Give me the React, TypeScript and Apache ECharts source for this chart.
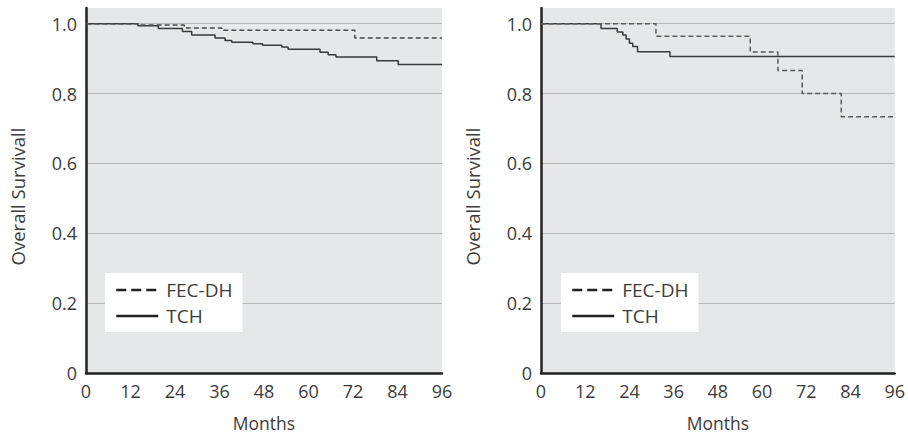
import React, { useEffect, useRef } from "react";
import * as echarts from "echarts";

// Kaplan-Meier style step data: [month, survival]
const leftFecDh: [number, number][] = [
  [0, 1], [14, 0.996], [26.5, 0.988], [36.6, 0.981], [72.5, 0.959], [96, 0.959],
];
const leftTch: [number, number][] = [
  [0, 1], [14, 0.994], [19.5, 0.986], [26, 0.978], [28.5, 0.968], [34.8, 0.959],
  [37.5, 0.952], [39.3, 0.947], [45, 0.943], [47.6, 0.938], [52.8, 0.933],
  [54.5, 0.927], [63.1, 0.918], [65.3, 0.911], [67.4, 0.905], [78.4, 0.894],
  [84.2, 0.883], [96, 0.883],
];
const rightFecDh: [number, number][] = [
  [0, 1], [31.2, 0.964], [56.8, 0.919], [64.3, 0.866], [70.9, 0.8], [81.5, 0.734], [96, 0.734],
];
const rightTch: [number, number][] = [
  [0, 1], [16.3, 0.986], [20.7, 0.976], [22.2, 0.968], [23.1, 0.956], [24, 0.944],
  [24.9, 0.935], [26.2, 0.92], [35, 0.906], [96, 0.906],
];
const seriesNames = ["FEC-DH", "TCH"];
const xAxisTitle = "Months";
const yAxisTitle = "Overall Survivall";

const FONT = "Open Sans";
const TEXT = "#3c3c3c";
const AXIS = "#222222";
const GRIDLINE = "#b8b8b8";
const BG = "#e6e7e9";

export default function App() {
  const ref = useRef<HTMLDivElement>(null);
  useEffect(() => {
    document.body.style.margin = "0";
    if (!ref.current) return;
    const chart = echarts.init(ref.current, undefined, { renderer: "svg" });

    const grids = [
      { left: 86, right: 466, top: 8, bottom: 67 },
      { left: 541, right: 11, top: 8, bottom: 67 },
    ];
    const xAxis = grids.map((_, i) => ({
      type: "value",
      gridIndex: i,
      min: 0,
      max: 96,
      interval: 12,
      name: xAxisTitle,
      nameLocation: "middle",
      nameGap: 41,
      nameTextStyle: { fontFamily: FONT, fontSize: 17.5, color: TEXT },
      axisLine: { show: true, onZero: false, lineStyle: { color: AXIS, width: 2.5 } },
      axisTick: { show: false },
      axisLabel: { fontFamily: FONT, fontSize: 18, color: TEXT, margin: 9 },
      splitLine: { show: false },
    }));
    const yAxis = grids.map((_, i) => ({
      type: "value",
      gridIndex: i,
      min: 0,
      max: 1.045,
      interval: 0.2,
      name: yAxisTitle,
      nameLocation: "middle",
      nameGap: 59,
      nameTextStyle: { fontFamily: FONT, fontSize: 18.5, color: TEXT, padding: [0, 12, 0, 0] },
      axisLine: { show: true, onZero: false, lineStyle: { color: AXIS, width: 2.5 } },
      axisTick: { show: false },
      axisLabel: {
        fontFamily: FONT,
        fontSize: 18,
        color: TEXT,
        margin: 9,
        formatter: (v: number) => (v === 0 ? "0" : v > 1.0001 ? "" : v.toFixed(1)),
      },
      splitLine: {
        show: true,
        showMinLine: false,
        showMaxLine: false,
        lineStyle: { color: GRIDLINE, width: 1 },
      },
    }));

    const mk = (name: string, data: [number, number][], idx: number, dashed: boolean, color: string) => ({
      type: "line",
      name,
      xAxisIndex: idx,
      yAxisIndex: idx,
      data,
      step: "end",
      symbol: "none",
      showSymbol: false,
      lineStyle: { color, width: 1.5, type: dashed ? [5, 3] : "solid" },
      itemStyle: { color },
      z: dashed ? 3 : 2,
    });

    const legendBase = {
      orient: "vertical",
      top: 273,
      backgroundColor: "#ffffff",
      padding: [7, 10, 6, 10],
      itemWidth: 42,
      itemHeight: 14,
      itemGap: 6,
      textStyle: { fontFamily: FONT, fontSize: 19, lineHeight: 20, color: TEXT, padding: [0, 0, 0, 3] },
      itemStyle: { opacity: 0 },
      lineStyle: { width: 2.5, color: "#222222" },
      data: [
        { name: seriesNames[0], lineStyle: { type: [10, 5], width: 2.5, color: "#222222" } },
        { name: seriesNames[1], lineStyle: { type: "solid", width: 2.5, color: "#222222" } },
      ],
      selectedMode: false,
    };

    chart.setOption({
      animation: false,
      backgroundColor: "#ffffff",
      grid: grids.map((g) => ({ ...g, show: true, backgroundColor: BG, borderWidth: 0 })),
      xAxis,
      yAxis,
      legend: [
        { ...legendBase, left: 105 },
        { ...legendBase, left: 561 },
      ],
      series: [
        mk(seriesNames[0], leftFecDh, 0, true, "#4a4a4a"),
        mk(seriesNames[1], leftTch, 0, false, "#3a3a3a"),
        mk(seriesNames[0], rightFecDh, 1, true, "#5a5a5a"),
        mk(seriesNames[1], rightTch, 1, false, "#3a3a3a"),
      ],
    });
    return () => chart.dispose();
  }, []);
  return <div ref={ref} style={{ width: 908, height: 440 }} />;
}
